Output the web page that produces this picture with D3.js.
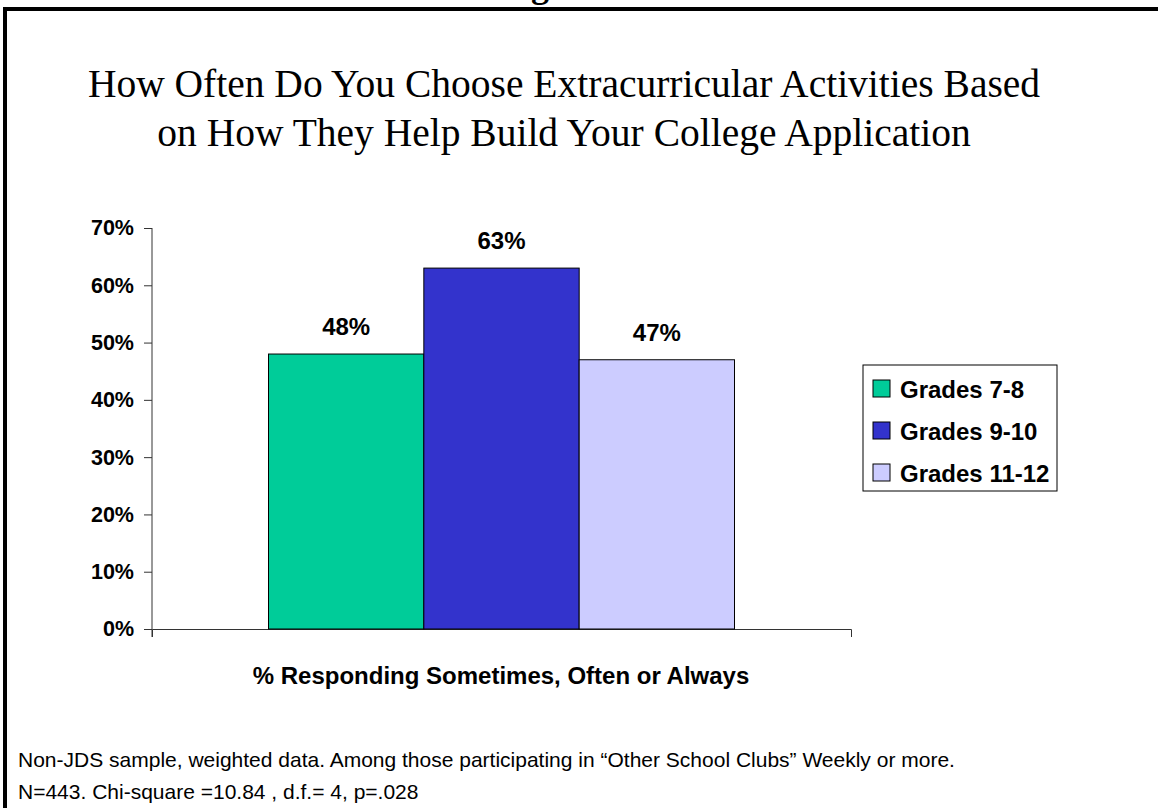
<!DOCTYPE html>
<html>
<head>
<meta charset="utf-8">
<script src="https://cdn.jsdelivr.net/npm/d3@7"></script>
<style>
  html, body { margin: 0; padding: 0; background: #fff; }
  svg { display: block; }
</style>
</head>
<body>
<svg id="chart" width="1158" height="808"></svg>
<script>
// Survey results: share responding Sometimes, Often or Always, by grade group
const grades = ["Grades 7-8", "Grades 9-10", "Grades 11-12"];
const percents = [48, 63, 47];
const barColors = ["#00CC99", "#3333CC", "#CCCCFF"];
const yTicks = [0, 10, 20, 30, 40, 50, 60, 70];
const titleLines = [
  "How Often Do You Choose Extracurricular Activities Based",
  "on How They Help Build Your College Application"
];
const axisTitle = "% Responding Sometimes, Often or Always";
const notes = [
  "Non-JDS sample, weighted data. Among those participating in \u201COther School Clubs\u201D Weekly or more.",
  "N=443. Chi-square =10.84 , d.f.= 4, p=.028"
];

const sans = "'Liberation Sans', Arial, Helvetica, sans-serif";
const serif = "'Liberation Serif', 'Times New Roman', Times, serif";

const svg = d3.select("#chart");

// page frame (top and left rules) and the clipped heading above it
svg.append("text")
  .attr("x", 540).attr("y", -3)
  .attr("text-anchor", "middle")
  .style("font-family", serif).style("font-weight", "bold").style("font-size", "36px")
  .text("g");
svg.append("rect").attr("x", 3).attr("y", 7).attr("width", 1158).attr("height", 4).attr("fill", "#000");
svg.append("rect").attr("x", 3).attr("y", 7).attr("width", 4).attr("height", 808).attr("fill", "#000");

// title
svg.append("g").selectAll("text").data(titleLines).join("text")
  .attr("x", 564).attr("y", (d, i) => 97 + i * 49)
  .attr("text-anchor", "middle")
  .style("font-family", serif).style("font-size", "39.5px").attr("fill", "#000")
  .text(d => d);

// plot area
const x0 = 152, x1 = 851, yTop = 228, yBase = 629;
const y = d3.scaleLinear().domain([0, 70]).range([yBase, yTop]);
const band = d3.scaleBand().domain([0]).range([x0, x1]).paddingInner(0).paddingOuter(0.25);
const inner = d3.scaleBand().domain(grades).range([0, band.bandwidth()]).padding(0);

const yAxis = d3.axisLeft(y).tickValues(yTicks).tickSize(8).tickPadding(10).tickFormat(d => d + "%");
const gy = svg.append("g").attr("transform", `translate(${x0},0)`).call(yAxis);
gy.select(".domain").attr("stroke", "#333").attr("d", `M0,${yTop}V${yBase + 8}`);
gy.selectAll(".tick line").attr("stroke", "#333");
gy.selectAll(".tick text")
  .style("font-family", sans).style("font-weight", "bold").style("font-size", "21.5px").attr("fill", "#000");

// category axis: baseline with end ticks
const xAxis = d3.axisBottom(band).tickValues([]).tickSizeOuter(8);
const gx = svg.append("g").attr("transform", `translate(0,${yBase})`).call(xAxis);
gx.select(".domain").attr("stroke", "#333");

// bars
const bars = svg.append("g");
bars.selectAll("rect").data(percents).join("rect")
  .attr("x", (d, i) => band(0) + inner(grades[i]))
  .attr("y", d => y(d))
  .attr("width", inner.bandwidth())
  .attr("height", d => yBase - y(d))
  .attr("fill", (d, i) => barColors[i])
  .attr("stroke", "#000").attr("stroke-width", 1);

// value labels
svg.append("g").selectAll("text").data(percents).join("text")
  .attr("x", (d, i) => band(0) + inner(grades[i]) + inner.bandwidth() / 2)
  .attr("y", d => y(d) - 19)
  .attr("text-anchor", "middle")
  .style("font-family", sans).style("font-weight", "bold").style("font-size", "24px")
  .text(d => d + "%");

// axis title
svg.append("text")
  .attr("x", 501).attr("y", 684)
  .attr("text-anchor", "middle")
  .style("font-family", sans).style("font-weight", "bold").style("font-size", "24px")
  .text(axisTitle);

// legend
const lg = svg.append("g").attr("transform", "translate(863,365)");
lg.append("rect").attr("width", 194).attr("height", 126).attr("fill", "#fff").attr("stroke", "#000").attr("stroke-width", 1);
const items = lg.selectAll("g.item").data(grades).join("g")
  .attr("class", "item")
  .attr("transform", (d, i) => `translate(0,${24 + i * 42})`);
items.append("rect")
  .attr("x", 10).attr("y", -9).attr("width", 17).attr("height", 17)
  .attr("fill", (d, i) => barColors[i]).attr("stroke", "#000");
items.append("text")
  .attr("x", 37).attr("y", 9)
  .style("font-family", sans).style("font-weight", "bold").style("font-size", "24px")
  .text(d => d);

// footnotes
svg.append("g").selectAll("text").data(notes).join("text")
  .attr("x", 18).attr("y", (d, i) => 767 + i * 32)
  .style("font-family", sans).style("font-size", "21px").attr("fill", "#000")
  .text(d => d);
</script>
</body>
</html>
